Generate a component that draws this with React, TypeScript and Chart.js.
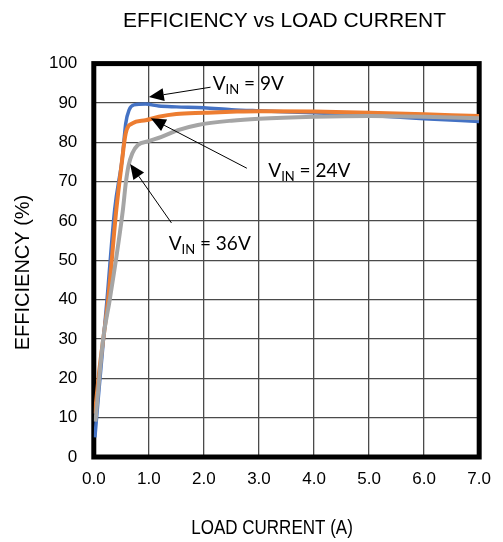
import React, { useEffect, useRef } from 'react';
import { Chart, registerables } from 'chart.js';
Chart.register(...registerables);

const TITLE = 'EFFICIENCY vs LOAD CURRENT';
const X_TITLE = 'LOAD CURRENT (A)';
const Y_TITLE = 'EFFICIENCY (%)';

const X_MIN = 0;
const X_MAX = 7;
const X_STEP = 1;
const Y_MIN = 0;
const Y_MAX = 100;
const Y_STEP = 10;

const vin9Current = [0.02, 0.1, 0.24, 0.38, 0.52, 0.58, 0.64, 0.73, 0.94, 1.18, 1.5, 2.0, 2.5, 3.0, 4.0, 5.0, 6.0, 7.0];
const vin9Eff = [5, 18, 40, 63, 76.3, 84.8, 88.2, 89.5, 89.7, 89.2, 89.0, 88.8, 88.3, 88.0, 87.5, 86.8, 86.0, 85.3];

const vin24Current = [0.02, 0.1, 0.26, 0.41, 0.5, 0.58, 0.7, 0.94, 1.18, 1.5, 2.0, 2.6, 3.0, 4.0, 5.0, 6.0, 7.0];
const vin24Eff = [11, 22, 40, 63, 73.8, 82.3, 84.8, 85.6, 86.5, 87.2, 87.5, 87.8, 87.9, 87.8, 87.5, 87.1, 86.7];

const vin36Current = [0.03, 0.17, 0.29, 0.53, 0.58, 0.63, 0.7, 0.8, 1.0, 1.23, 1.53, 1.89, 2.5, 3.0, 4.0, 5.0, 6.0, 7.0];
const vin36Eff = [9, 30, 40, 63, 69.5, 74.0, 77.2, 79.3, 80.3, 81.4, 83.1, 84.4, 85.5, 86.0, 86.5, 86.7, 86.5, 86.1];

const seriesNames = ['VIN = 9V', 'VIN = 24V', 'VIN = 36V'];
const seriesColors = ['#4472C4', '#ED7D31', '#A5A5A5'];

// callout labels (data coordinates)
const labelMain = ['V', 'V', 'V'];
const labelSub = ['IN', 'IN', 'IN'];
const labelRest = [' = 9V', ' = 24V', ' = 36V'];
const labelX = [2.16, 3.17, 1.36];
const labelY = [93.3, 71.3, 52.7];
const arrowFromX = [2.12, 2.78, 1.41];
const arrowFromY = [94.0, 73.4, 59.5];
const arrowToX = [1.0, 1.035, 0.66];
const arrowToY = [91.5, 86.1, 74.5];

const toPoints = (xs: number[], ys: number[]) => xs.map((x, i) => ({ x, y: ys[i] }));

function drawArrow(ctx: CanvasRenderingContext2D, x1: number, y1: number, x2: number, y2: number) {
  const ang = Math.atan2(y2 - y1, x2 - x1);
  const headLen = 15;
  const headW = 6.5;
  const c = Math.cos(ang);
  const s = Math.sin(ang);
  ctx.beginPath();
  ctx.moveTo(x1, y1);
  ctx.lineTo(x2 - c * headLen, y2 - s * headLen);
  ctx.stroke();
  ctx.beginPath();
  ctx.moveTo(x2, y2);
  ctx.lineTo(x2 - headLen * c + headW * s, y2 - headLen * s - headW * c);
  ctx.lineTo(x2 - headLen * c - headW * s, y2 - headLen * s + headW * c);
  ctx.closePath();
  ctx.fill();
}

const decoPlugin = {
  id: 'deco',
  beforeDatasetsDraw(chart: any) {
    const { ctx, chartArea } = chart;
    ctx.save();
    ctx.strokeStyle = '#000';
    ctx.lineWidth = 5;
    ctx.strokeRect(chartArea.left, chartArea.top, chartArea.right - chartArea.left, chartArea.bottom - chartArea.top);
    ctx.restore();
  },
  afterDraw(chart: any) {
    const { ctx, chartArea } = chart;
    const xs = chart.scales.x;
    const ys = chart.scales.y;
    ctx.save();
    ctx.fillStyle = '#000';
    ctx.strokeStyle = '#000';
    // main title
    ctx.font = '21px "Liberation Sans", Arial, sans-serif';
    ctx.textAlign = 'center';
    ctx.textBaseline = 'alphabetic';
    ctx.fillText(TITLE, (chartArea.left + chartArea.right) / 2 - 2, 26.7);
    // x title (condensed)
    ctx.save();
    ctx.translate(272, 534.3);
    ctx.scale(0.81, 1);
    ctx.fillText(X_TITLE, 0, 0);
    ctx.restore();
    // y title
    ctx.save();
    ctx.font = '20px "Liberation Sans", Arial, sans-serif';
    ctx.translate(28.5, 272.5);
    ctx.rotate(-Math.PI / 2);
    ctx.fillText(Y_TITLE, 0, 0);
    ctx.restore();
    // callouts
    ctx.lineWidth = 1;
    for (let i = 0; i < labelMain.length; i++) {
      drawArrow(
        ctx,
        xs.getPixelForValue(arrowFromX[i]),
        ys.getPixelForValue(arrowFromY[i]),
        xs.getPixelForValue(arrowToX[i]),
        ys.getPixelForValue(arrowToY[i])
      );
      let px = xs.getPixelForValue(labelX[i]);
      const py = ys.getPixelForValue(labelY[i]);
      ctx.textAlign = 'left';
      ctx.textBaseline = 'alphabetic';
      ctx.font = '19px Lato, "Open Sans", sans-serif';
      ctx.fillText(labelMain[i], px, py);
      px += ctx.measureText(labelMain[i]).width;
      ctx.font = '13px Lato, "Open Sans", sans-serif';
      ctx.fillText(labelSub[i], px, py + 4);
      px += ctx.measureText(labelSub[i]).width;
      ctx.font = '19px Lato, "Open Sans", sans-serif';
      ctx.fillText(labelRest[i], px, py);
    }
    ctx.restore();
  },
};

export default function App() {
  const ref = useRef<HTMLCanvasElement>(null);
  useEffect(() => {
    if (!ref.current) return;
    const datasets = [
      { label: seriesNames[0], data: toPoints(vin9Current, vin9Eff), borderColor: seriesColors[0], borderWidth: 3.5, order: 3 },
      { label: seriesNames[1], data: toPoints(vin24Current, vin24Eff), borderColor: seriesColors[1], borderWidth: 4, order: 2 },
      { label: seriesNames[2], data: toPoints(vin36Current, vin36Eff), borderColor: seriesColors[2], borderWidth: 4, order: 1 },
    ].map((d) => ({ ...d, pointRadius: 0, fill: false, cubicInterpolationMode: 'monotone' as const, backgroundColor: d.borderColor }));
    const tickFont = { family: '"Liberation Sans", Arial, sans-serif', size: 17 };
    const chart = new Chart(ref.current, {
      type: 'line',
      data: { datasets },
      plugins: [decoPlugin],
      options: {
        animation: false,
        responsive: false,
        layout: { padding: { top: 63.6, right: 15.8, bottom: 0, left: 0 } },
        plugins: { legend: { display: false }, tooltip: { enabled: false }, title: { display: false } },
        scales: {
          x: {
            type: 'linear',
            min: X_MIN,
            max: X_MAX,
            ticks: {
              stepSize: X_STEP,
              autoSkip: false,
              maxRotation: 0,
              padding: 12,
              color: '#000',
              font: tickFont,
              callback: (v: any) => Number(v).toFixed(1),
            },
            grid: { color: '#4a4a4a', lineWidth: 1.3, drawTicks: false },
            border: { display: false },
            afterFit: (s: any) => { s.height = 85; },
          },
          y: {
            type: 'linear',
            min: Y_MIN,
            max: Y_MAX,
            ticks: { stepSize: Y_STEP, padding: 16.5, color: '#000', font: tickFont },
            grid: { color: '#4a4a4a', lineWidth: 1.3, drawTicks: false },
            border: { display: false },
            afterFit: (s: any) => { s.width = 93.8; },
          },
        },
      },
    });
    return () => chart.destroy();
  }, []);
  return (
    <div style={{ position: 'absolute', left: 0, top: 0, width: 503, height: 542, background: '#fff' }}>
      <canvas ref={ref} width={503} height={542} />
    </div>
  );
}
